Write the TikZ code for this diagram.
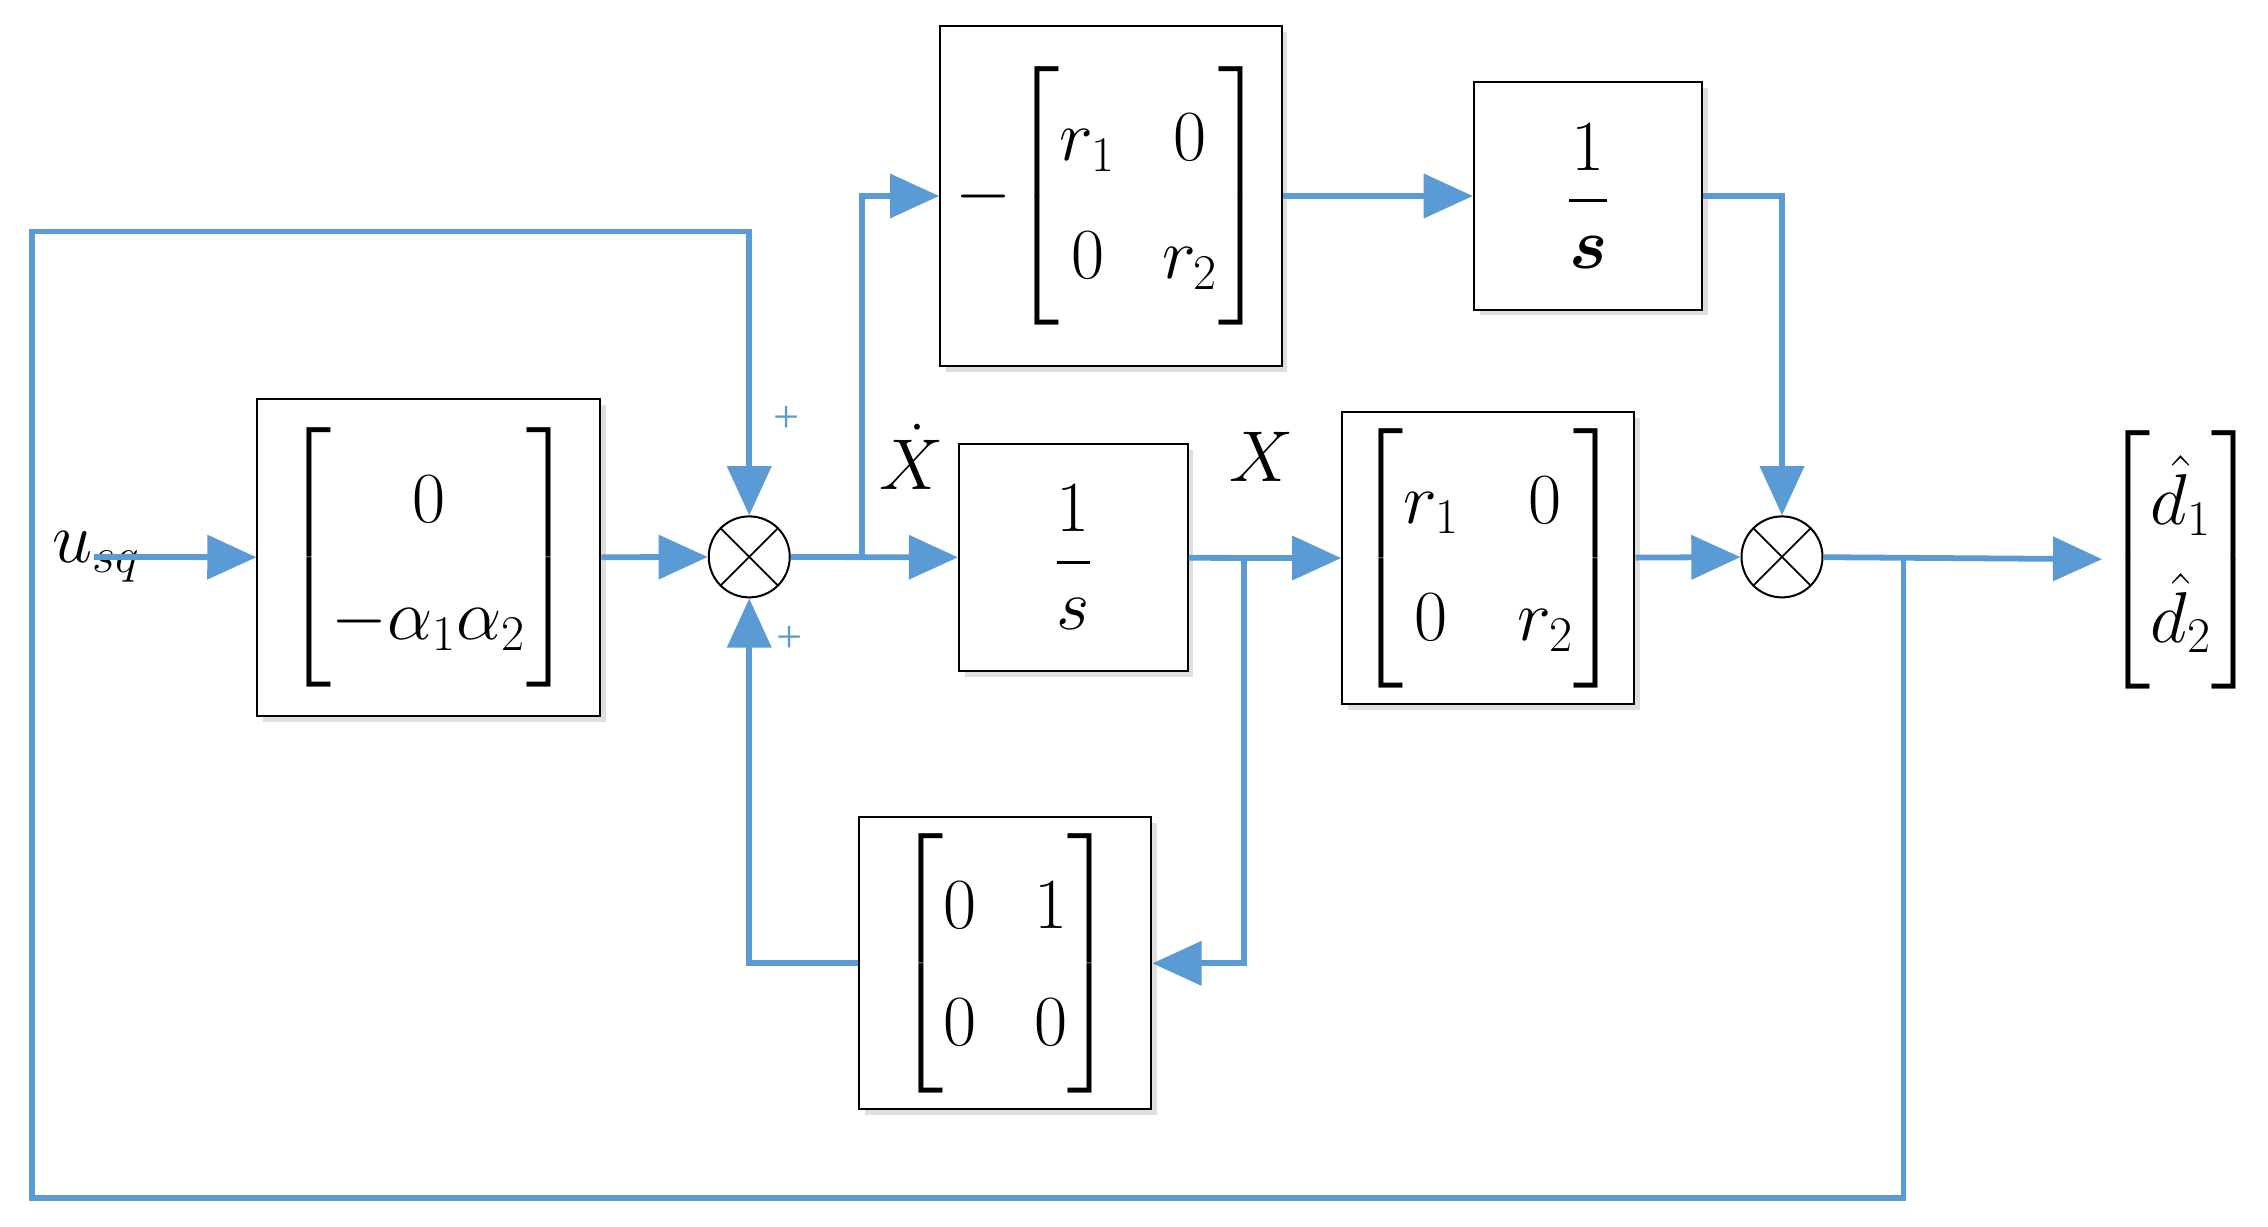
\documentclass[tikz,border=0pt]{standalone}
\usepackage{amsmath}
\usepackage{fontspec}
\setmainfont{Liberation Serif}
\usetikzlibrary{arrows.meta,shadows}
\definecolor{lb}{RGB}{91,155,213}
\renewcommand{\arraystretch}{1.4}
\setlength{\arraycolsep}{10pt}
\begin{document}
\begin{tikzpicture}[x=0.5pt,y=-0.5pt,
  blk/.style={draw=black,line width=0.7pt,fill=white,inner sep=0pt,font=\fontsize{25}{29}\selectfont,
    drop shadow={opacity=0.25,shadow xshift=2pt,shadow yshift=-2pt}},
  sum/.style={draw=black,line width=0.7pt,fill=white,circle,minimum size=28pt,inner sep=0pt,
    path picture={\draw[line width=0.6pt] (path picture bounding box.north west)--(path picture bounding box.south east) (path picture bounding box.north east)--(path picture bounding box.south west);}},
  ln/.style={draw=lb,line width=2pt},
  ar/.style={ln,-{Triangle[length=17pt,width=15pt]}},
  lbl/.style={font=\fontsize{25}{29}\selectfont}]
\useasboundingbox (0,0) rectangle (1568,848);
\node[blk,minimum width=118.5pt,minimum height=109.5pt] (b1) at (296.5,385.5) {$\setlength{\arraycolsep}{4pt}\begin{bmatrix}0\\-\alpha_1\alpha_2\end{bmatrix}$};
\node[sum] (s1) at (518,385) {};
\node[blk,minimum width=118pt,minimum height=117.5pt] (top) at (768,135.5) {$-\!\setlength{\arraycolsep}{8pt}\begin{bmatrix}r_1 & 0\\0 & r_2\end{bmatrix}$};
\node[blk,minimum width=79pt,minimum height=78.5pt] (ints) at (1098,135.5) {$\dfrac{1}{\boldsymbol{s}}$};
\node[blk,minimum width=79pt,minimum height=78.5pt] (int) at (742,385.5) {$\dfrac{1}{s}$};
\node[blk,minimum width=101pt,minimum height=101pt] (r) at (1029,386) {$\begin{bmatrix}r_1 & 0\\0 & r_2\end{bmatrix}$};
\node[sum] (s2) at (1232,385) {};
\node[lbl,inner sep=0pt] (out) at (1508,387) {$\setlength{\arraycolsep}{4pt}\begin{bmatrix}\hat d_1\\ \hat d_2\end{bmatrix}$};
\node[blk,minimum width=101pt,minimum height=101pt] (bot) at (695,666) {$\begin{bmatrix}0 & 1\\0 & 0\end{bmatrix}$};
\node[lbl,anchor=west,inner sep=0pt] (u) at (36,385) {$u_{sq}$};
\node[text=lb,font=\fontsize{16}{18}\selectfont] (p1) at (544,290) {+};
\node[text=lb,font=\fontsize{16}{18}\selectfont] (p2) at (546,442) {+};
\node[lbl] (xd) at (630,316) {$\dot X$};
\node[lbl] (x) at (872,316) {$X$};
\coordinate (c0) at (65,385);
\coordinate (c1) at (596,385);
\coordinate (c2) at (860,385);
\coordinate (c3) at (1316,385);
\draw[ar] (c0) -- (b1);
\draw[ar] (b1) -- (s1);
\draw[ar] (s1) -- (int);
\draw[ar] (c1) |- (top);
\draw[ar] (top) -- (ints);
\draw[ar] (ints) -| (s2);
\draw[ar] (int) -- (r);
\draw[ar] (c2) |- (bot);
\draw[ar] (bot) -| (s1);
\draw[ar] (r) -- (s2);
\draw[ar] (s2) -- (out);
\draw[ar] (c3) |- (22,828) |- (518,160) -- (s1);
\end{tikzpicture}
\end{document}
